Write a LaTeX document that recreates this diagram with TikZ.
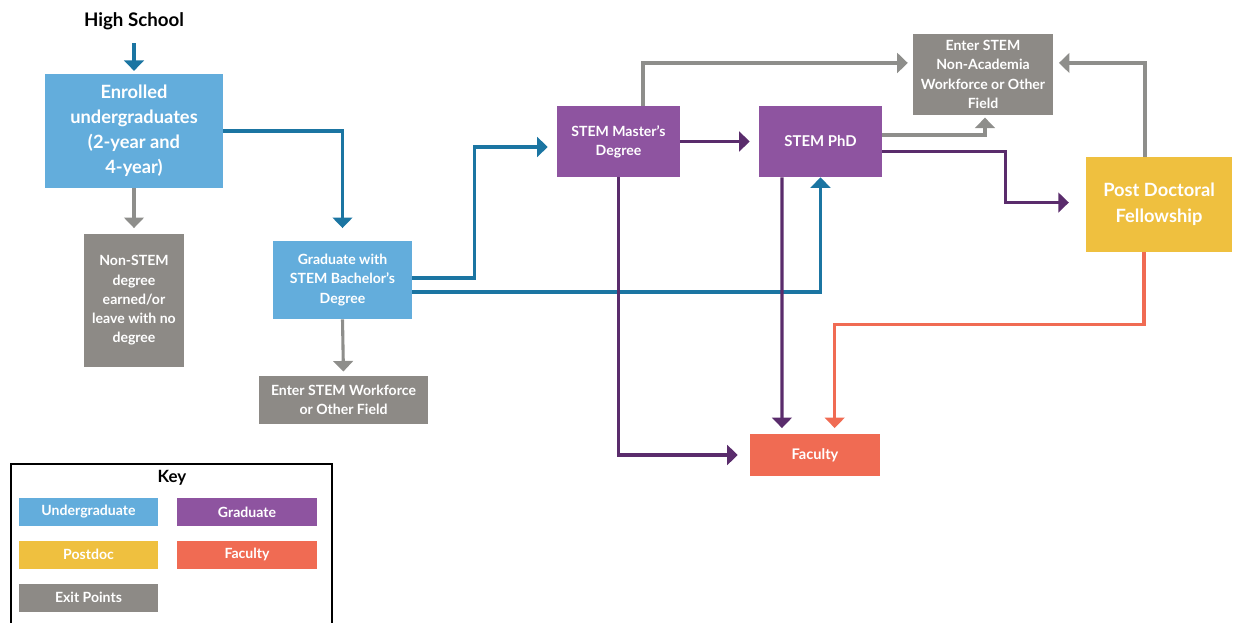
\documentclass[tikz,border=0pt]{standalone}
\usepackage{fontspec}
\setmainfont{Lato}
\usetikzlibrary{arrows.meta}
\definecolor{ugblue}{HTML}{63ADDC}
\definecolor{ugline}{HTML}{1B75A2}
\definecolor{gradpurple}{HTML}{8E54A0}
\definecolor{gradline}{HTML}{5A2C6C}
\definecolor{exitgrey}{HTML}{8D8A86}
\definecolor{exitline}{HTML}{8E8E8B}
\definecolor{pdyellow}{HTML}{EFC03F}
\definecolor{facorange}{HTML}{F06B53}
\begin{document}
\begin{tikzpicture}[x=0.025cm, y=-0.025cm,
  box/.style={inner sep=0pt, align=center, text=white, font=\bfseries\fontsize{10}{13.7}\selectfont},
  keybox/.style={box, minimum width=3.475cm, minimum height=0.7cm},
  flow/.style={line width=2.2pt, -{Triangle[width=14pt,length=7.5pt]}}]
  \useasboundingbox (0,0) rectangle (1235,623);

  % Undergraduate stage
  \node[font=\bfseries\fontsize{13.3}{15}\selectfont] (hs) at (134,21) {High School};
  \node[box, fill=ugblue, minimum width=4.45cm, minimum height=2.85cm, font=\bfseries\fontsize{13}{17.8}\selectfont] (enr) at (134,131) {Enrolled\\undergraduates\\(2-year and\\4-year)};
  \node[box, fill=exitgrey, minimum width=2.5cm, minimum height=3.325cm] (nonstem) at (134,300.5) {Non-STEM\\degree\\earned/or\\leave with no\\degree};
  \node[box, fill=ugblue, minimum width=3.475cm, minimum height=1.95cm] (bach) at (342.5,280) {Graduate with\\STEM Bachelor's\\Degree};
  \node[box, fill=exitgrey, minimum width=4.225cm, minimum height=1.2cm] (work) at (343.5,400) {Enter STEM Workforce\\or Other Field};

  % Graduate stage
  \node[box, fill=gradpurple, minimum width=3.075cm, minimum height=1.775cm] (mast) at (618.5,141.5) {STEM Master's\\Degree};
  \node[box, fill=gradpurple, minimum width=3.075cm, minimum height=1.775cm, font=\bfseries\fontsize{10.6}{14}\selectfont] (phd) at (820.5,141.5) {STEM PhD};
  \node[box, fill=exitgrey, minimum width=3.5cm, minimum height=2cm] (nonac) at (983,74.5) {Enter STEM\\Non-Academia\\Workforce or Other\\Field};

  % Postdoc and faculty
  \node[box, fill=pdyellow, minimum width=3.65cm, minimum height=2.375cm, font=\bfseries\fontsize{13}{18.5}\selectfont] (post) at (1159,204.5) {Post Doctoral\\Fellowship};
  \node[box, fill=facorange, minimum width=3.25cm, minimum height=1.05cm, font=\bfseries\fontsize{10.4}{14}\selectfont] (fac) at (815,455) {Faculty};

  % Connectors
  \draw[flow, ugline, shorten <=6pt, shorten >=2pt] (hs.south) -- (enr.north);
  \draw[flow, ugline, shorten >=9pt] (enr.east) -| (bach.north);
  \draw[flow, exitline, shorten >=4pt] (enr.south) -- (nonstem.north);
  \draw[flow, exitline, shorten >=3pt] (bach.south) -- (work.north);
  \draw[flow, ugline, shorten >=6.4pt] ([yshift=1.4pt]bach.east) -- ++(62,0) |- ([yshift=-3.9pt]mast.west);
  \draw[flow, ugline] ([yshift=-8.5pt]bach.east) -| (phd.south);
  \draw[flow, gradline, shorten >=6.4pt] (mast.east) -- (phd.west);
  \draw[flow, exitline, shorten >=3.5pt] ([xshift=17.4pt]mast.north) |- ([yshift=8.2pt]nonac.west);
  \draw[flow, exitline, shorten >=2pt] ([yshift=4.6pt]phd.east) -| ([xshift=1.4pt]nonac.south);
  \draw[flow, gradline, shorten >=12pt] ([yshift=-7pt]phd.east) -- ++(123,0) |- ([yshift=1.4pt]post.west);
  \draw[flow, exitline, shorten >=4pt] ([xshift=-10pt]post.north) |- ([yshift=8.2pt]nonac.east);
  \draw[flow, facorange, shorten >=4pt] ([xshift=-10.7pt]post.south) -- ++(0,72) -| ([xshift=14pt]fac.north);
  \draw[flow, gradline, shorten >=8.5pt] (mast.south) |- (fac.west);
  \draw[flow, gradline, shorten >=4pt] ([xshift=-27.4pt]phd.south) -- ([xshift=-23.5pt]fac.north);

  % Key
  \draw[line width=0.8pt] (11,626) -- (11,464) -- (332,464) -- (332,626);
  \node[font=\bfseries\fontsize{12}{14}\selectfont] (key) at (172,478) {Key};
  \node[keybox, fill=ugblue] (kund) at (88.5,512) {Undergraduate};
  \node[keybox, fill=gradpurple] (kgrad) at (247,512) {Graduate};
  \node[keybox, fill=pdyellow] (kpost) at (88.5,554.5) {Postdoc};
  \node[keybox, fill=facorange] (kfac) at (247,554.5) {Faculty};
  \node[keybox, fill=exitgrey] (kexit) at (88.5,597.5) {Exit Points};
\end{tikzpicture}
\end{document}
